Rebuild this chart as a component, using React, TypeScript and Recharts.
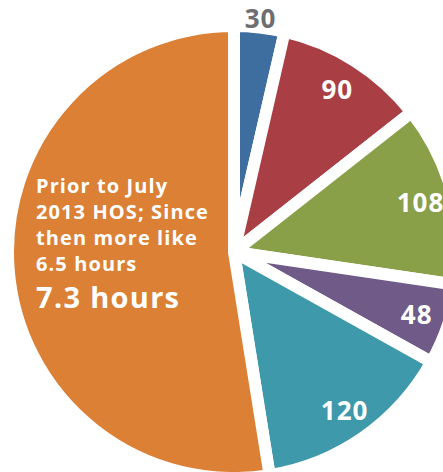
import { PieChart, Pie, Cell } from "recharts";

const values = [30, 90, 108, 48, 120, 438];
const labels = ["30", "90", "108", "48", "120", "7.3 hours"];
const colors = ["#3e6e9f", "#a93f44", "#89a049", "#6f5a88", "#3e99ab", "#db8035"];
const noteLines = ["Prior to July", "2013 HOS; Since", "then more like", "6.5 hours"];

const data = values.map((v, i) => ({ name: labels[i], value: v }));

const RAD = Math.PI / 180;
const FONT = "'Open Sans', sans-serif";

function renderLabel(props: any) {
  const { cx, cy, midAngle, outerRadius, index } = props;
  if (index === 5) {
    // big orange slice: note + headline, left aligned
    const x = cx - 198;
    const y0 = cy - 59;
    return (
      <g>
        {noteLines.map((t, i) => (
          <text key={i} x={x} y={y0 + i * 26} fill="#fff" fontFamily={FONT} fontWeight={700} fontSize={20} letterSpacing={1.1}>
            {t}
          </text>
        ))}
        <text x={x} y={y0 + 115} fill="#fff" fontFamily={FONT} fontWeight={700} fontSize={29} letterSpacing={1.3}>
          {labels[index]}
        </text>
      </g>
    );
  }
  const outside = index === 0;
  const r = outside ? outerRadius + 10 : outerRadius - 33;
  const x = cx + r * Math.cos(-midAngle * RAD);
  const y = cy + r * Math.sin(-midAngle * RAD);
  return (
    <text
      x={x}
      y={y}
      fill={outside ? "#6d6e71" : "#fff"}
      textAnchor="middle"
      dominantBaseline="central"
      fontFamily={FONT}
      fontWeight={700}
      fontSize={26}
      letterSpacing={1}
    >
      {labels[index]}
    </text>
  );
}

export default function App() {
  return (
    <div style={{ position: "absolute", left: 0, top: 0, background: "#fff" }}>
      <PieChart width={443} height={472} margin={{ top: 0, right: 0, bottom: 0, left: 0 }}>
        <Pie
          data={data}
          dataKey="value"
          nameKey="name"
          cx={234}
          cy={252}
          outerRadius={226}
          startAngle={90}
          endAngle={-270}
          stroke="#fff"
          strokeWidth={12}
          label={renderLabel}
          labelLine={false}
          isAnimationActive={false}
        >
          {data.map((d, i) => (
            <Cell key={d.name} fill={colors[i]} />
          ))}
        </Pie>
      </PieChart>
    </div>
  );
}
